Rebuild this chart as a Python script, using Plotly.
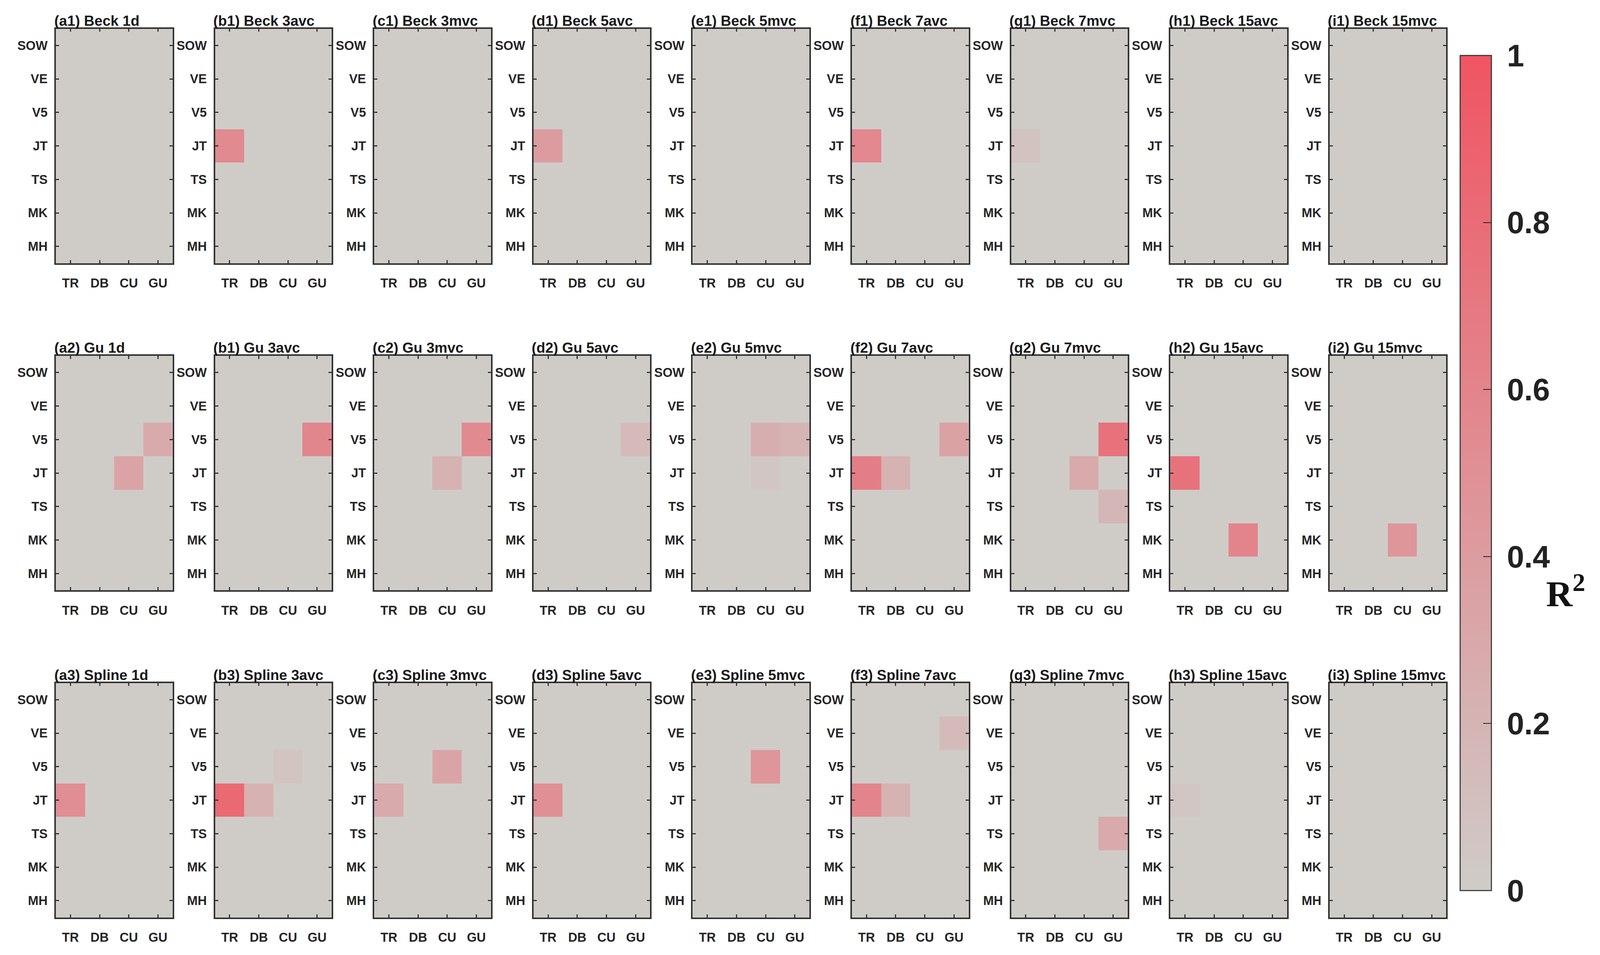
import plotly.graph_objects as go

# ---------------- data ----------------
stages = ["SOW", "VE", "V5", "JT", "TS", "MK", "MH"]
methods = ["TR", "DB", "CU", "GU"]
windows = ["1d", "3avc", "3mvc", "5avc", "5mvc", "7avc", "7mvc", "15avc", "15mvc"]
letters = ["a", "b", "c", "d", "e", "f", "g", "h", "i"]
row_names = ["Beck", "Gu", "Spline"]
# panel-label row index as printed in the original (note "(b1) Gu 3avc")
label_rows = [
    ["1", "1", "1", "1", "1", "1", "1", "1", "1"],
    ["2", "1", "2", "2", "2", "2", "2", "2", "2"],
    ["3", "3", "3", "3", "3", "3", "3", "3", "3"],
]

# non-zero R2 cells: (window, method, stage, R2)
beck_cells = [
    ("3avc", "TR", "JT", 0.55),
    ("5avc", "TR", "JT", 0.40),
    ("7avc", "TR", "JT", 0.57),
    ("7mvc", "TR", "JT", 0.08),
]
gu_cells = [
    ("1d", "GU", "V5", 0.28),
    ("1d", "CU", "JT", 0.33),
    ("3avc", "GU", "V5", 0.58),
    ("3mvc", "GU", "V5", 0.55),
    ("3mvc", "CU", "JT", 0.22),
    ("5avc", "GU", "V5", 0.14),
    ("5mvc", "CU", "V5", 0.25),
    ("5mvc", "GU", "V5", 0.20),
    ("5mvc", "CU", "JT", 0.05),
    ("7avc", "TR", "JT", 0.65),
    ("7avc", "DB", "JT", 0.22),
    ("7avc", "GU", "V5", 0.35),
    ("7mvc", "GU", "V5", 0.75),
    ("7mvc", "CU", "JT", 0.28),
    ("7mvc", "GU", "TS", 0.18),
    ("15avc", "TR", "JT", 0.75),
    ("15avc", "CU", "MK", 0.60),
    ("15mvc", "CU", "MK", 0.45),
]
spline_cells = [
    ("1d", "TR", "JT", 0.52),
    ("3avc", "TR", "JT", 0.82),
    ("3avc", "DB", "JT", 0.22),
    ("3avc", "CU", "V5", 0.07),
    ("3mvc", "TR", "JT", 0.28),
    ("3mvc", "CU", "V5", 0.33),
    ("5avc", "TR", "JT", 0.50),
    ("5mvc", "CU", "V5", 0.45),
    ("7avc", "TR", "JT", 0.60),
    ("7avc", "DB", "JT", 0.22),
    ("7avc", "GU", "VE", 0.14),
    ("7mvc", "GU", "TS", 0.28),
    ("15avc", "TR", "JT", 0.05),
]
cb_ticks = [0, 0.2, 0.4, 0.6, 0.8, 1]

# ---------------- layout geometry (reference pixels -> paper fractions) ----------------
REF_W, REF_H = 5044, 2445
FS = 0.9  # scale for pixel sizes (fonts, line widths)


def px(v):
    return round(v * FS, 2)


def ipx(v):
    return int(round(v * FS))


col_left0, col_pitch, panel_w = 167, 503.9, 369
row_tops = [66, 909, 1752]
panel_h = 604

GRAY = "rgb(207,204,200)"
RED = "rgb(240,84,98)"
AX = "#333333"
TXT = "#262626"
FONT = "Liberation Sans, Arial, sans-serif"

fig = go.Figure()
annotations = []
all_cells = [beck_cells, gu_cells, spline_cells]

k = 0
for r in range(3):
    for c in range(9):
        k += 1
        z = [[0.0 for _ in methods] for _ in stages]
        for (w, m, s, v) in all_cells[r]:
            if w == windows[c]:
                z[stages.index(s)][methods.index(m)] = v
        xa = "x" if k == 1 else f"x{k}"
        ya = "y" if k == 1 else f"y{k}"
        fig.add_trace(go.Heatmap(
            z=z, x=list(range(len(methods))), y=list(range(len(stages))),
            coloraxis="coloraxis", xaxis=xa, yaxis=ya,
            hovertemplate="%{z}<extra></extra>",
        ))
        left = col_left0 + c * col_pitch
        top = row_tops[r]
        xdom = [left / REF_W, (left + panel_w) / REF_W]
        ydom = [(REF_H - top - panel_h) / REF_H, (REF_H - top) / REF_H]
        axis_common = dict(
            showline=True, linecolor=AX, linewidth=px(4), mirror="ticks",
            ticks="inside", ticklen=px(9), tickwidth=px(3), tickcolor=AX,
            showgrid=False, zeroline=False, fixedrange=True,
            tickfont=dict(family=FONT, size=px(36), color=TXT, weight="bold"),
        )
        xname = "xaxis" if k == 1 else f"xaxis{k}"
        yname = "yaxis" if k == 1 else f"yaxis{k}"
        fig.layout[xname] = dict(
            domain=xdom, anchor=ya, range=[-0.5, len(methods) - 0.5],
            tickvals=list(range(len(methods))), ticktext=methods,
            ticklabelstandoff=20, **axis_common)
        fig.layout[yname] = dict(
            domain=ydom, anchor=xa, range=[len(stages) - 0.5, -0.5],
            tickvals=list(range(len(stages))), ticktext=stages,
            ticklabelstandoff=ipx(12), **axis_common)
        title = f"({letters[c]}{label_rows[r][c]}) {row_names[r]} {windows[c]}"
        annotations.append(dict(
            text=title, xref="paper", yref="paper",
            x=(left - 8) / REF_W, y=(REF_H - top) / REF_H,
            xanchor="left", yanchor="bottom",
            yshift=-2, showarrow=False,
            font=dict(family=FONT, size=37, color="#1a1a1a", weight="bold"),
        ))

# colorbar geometry (reference pixels)
cb_left, cb_right, cb_top, cb_bot = 4611, 4710, 135, 2287
annotations.append(dict(
    text="R<sup>2</sup>", xref="paper", yref="paper",
    x=4945 / REF_W, y=(REF_H - 1515) / REF_H, xanchor="center", yanchor="middle",
    showarrow=False,
    font=dict(family="Liberation Serif, Times New Roman, serif", size=px(104),
              color="#111111", weight="bold"),
))

fig.update_layout(
    autosize=True,
    margin=dict(l=0, r=0, t=0, b=0),
    paper_bgcolor="white", plot_bgcolor=GRAY,
    showlegend=False,
    annotations=annotations,
    coloraxis=dict(
        cmin=0, cmax=1,
        colorscale=[[0, GRAY], [1, RED]],
        colorbar=dict(
            x=cb_left / REF_W, xanchor="left", xpad=0, ypad=0,
            y=(REF_H - (cb_top + cb_bot) / 2) / REF_H, yanchor="middle",
            len=(cb_bot - cb_top) / REF_H, lenmode="fraction",
            thickness=(cb_right - cb_left) / REF_W, thicknessmode="fraction",
            outlinewidth=px(3), outlinecolor=AX,
            ticks="inside", ticklen=px(24), tickwidth=px(2), tickcolor="#222222",
            tickmode="linear", tick0=cb_ticks[0], dtick=cb_ticks[1] - cb_ticks[0],
            tickprefix="\u00a0", showtickprefix="all",
            tickfont=dict(family=FONT, size=px(88), color="#222222", weight="bold"),
        ),
    ),
)

fig.write_html("out.html", default_width="100%",
               default_height="calc(100vh - 16px)",
               config={"responsive": True})
